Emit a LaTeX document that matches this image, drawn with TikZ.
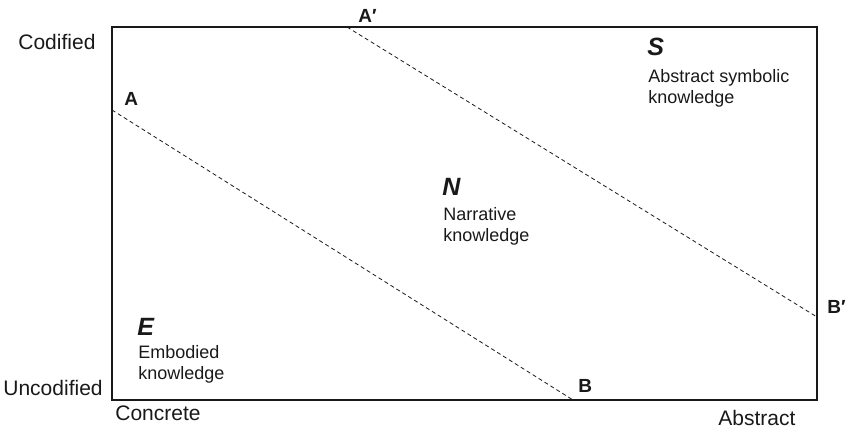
\documentclass[tikz,border=0pt]{standalone}
\usepackage{fontspec}
\setmainfont{Liberation Sans}
\usepackage{tikz}
\usetikzlibrary{positioning,calc}

\tikzset{
  axislbl/.style={font=\fontsize{10.5}{12}\selectfont,inner sep=0pt},
  ptlbl/.style={font=\fontsize{9.5}{11}\selectfont\bfseries,inner sep=0pt,anchor=base west},
  zoneletter/.style={font=\fontsize{12.5}{14}\selectfont\bfseries\itshape,inner sep=0pt,anchor=base west},
  zonetext/.style={font=\fontsize{9}{10.5}\selectfont,inner sep=0pt,anchor=north west,align=left},
  bound/.style={dash pattern=on 2pt off 1.5pt,line width=0.4pt}
}

\begin{document}
\begin{tikzpicture}[x=0.5pt,y=-0.5pt,black!90]
  \useasboundingbox (0,0) rectangle (850,429);
  % frame
  \coordinate (nw) at (112,27);
  \coordinate (se) at (817,400);
  \draw[line width=0.6pt] (nw) rectangle (se);
  % boundaries
  \coordinate (A) at (112,110);
  \coordinate (B) at (573,400);
  \coordinate (Ap) at (347,27);
  \coordinate (Bp) at (817,317);
  \draw[bound] (A)--(B);
  \draw[bound] (Ap)--(Bp);
  \node[ptlbl] (labA) at (124,105) {A};
  \node[ptlbl] (labB) at (578,392) {B};
  \node[ptlbl] (labAp) at (358,22) {A′};
  \node[ptlbl] (labBp) at (827,313) {B′};
  % axes
  \node[axislbl,anchor=base west] (cod) at (18,49) {Codified};
  \node[axislbl,anchor=base west] (uncod) at (3,395) {Uncodified};
  \node[axislbl,anchor=base west] (conc) at (115,420) {Concrete};
  \node[axislbl,anchor=base west] (abst) at (718,425) {Abstract};
  % zones
  \node[zoneletter] (E) at (137,335) {E};
  \node[zonetext] (Etxt) at (138,345) {Embodied\\knowledge};
  \node[zoneletter] (N) at (442,195) {N};
  \node[zonetext] (Ntxt) at (443,207) {Narrative\\knowledge};
  \node[zoneletter] (S) at (647,55) {S};
  \node[zonetext] (Stxt) at (648,69) {Abstract symbolic\\knowledge};
\end{tikzpicture}
\end{document}
